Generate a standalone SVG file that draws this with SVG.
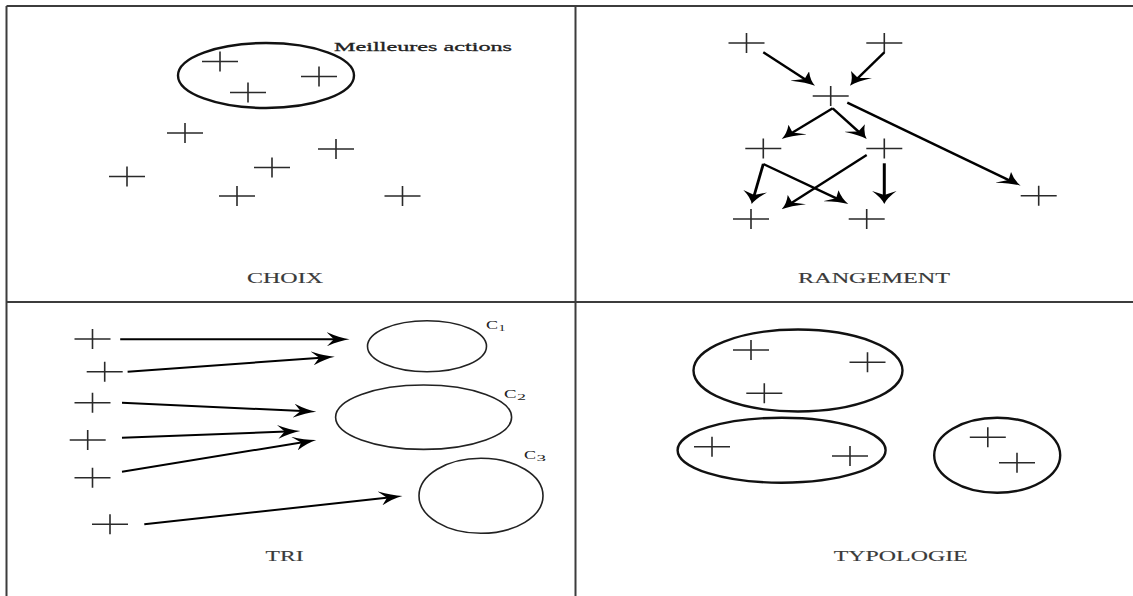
<svg xmlns="http://www.w3.org/2000/svg" xmlns:xlink="http://www.w3.org/1999/xlink" width="1133" height="596" viewBox="0 0 1133 596">
  <style>
    .frame { stroke: #3c3c3c; stroke-width: 2; fill: none; }
    .cross { stroke: #2a2a2a; stroke-width: 1.6; fill: none; }
    .set { stroke: #111; stroke-width: 2.4; fill: none; }
    .cls { stroke: #222; stroke-width: 1.6; fill: none; }
    .arrow { stroke: #000; stroke-width: 2.4; fill: none; marker-end: url(#head); vector-effect: non-scaling-stroke; }
    .thin { stroke-width: 2; }
    .label { font-family: "Liberation Serif", "Times New Roman", serif; font-size: 15px; fill: #3a3a3a; stroke: #3a3a3a; stroke-width: 0.15; }
    .note { font-family: "Liberation Serif", "Times New Roman", serif; font-size: 13.5px; fill: #222; stroke: #222; stroke-width: 0.3; }
    .cls-name { font-family: "Liberation Serif", "Times New Roman", serif; font-size: 13px; fill: #222; }
    .sub { font-family: "Liberation Serif", "Times New Roman", serif; font-size: 8px; fill: #222; }
  </style>
  <defs>
    <!-- elementary action: wide plus sign -->
    <path id="cross" class="cross" d="M-18,0 H18 M0,-10 V10"/>
    <!-- barbed arrowhead; stretched sideways by the connector layer -->
    <marker id="head" markerUnits="userSpaceOnUse" viewBox="0 0 13 14" markerWidth="13" markerHeight="14" refX="5" refY="7" orient="auto">
      <path d="M0,0 Q7,5.5 13,7 Q7,8.5 0,14 L4,7 Z" fill="#000"/>
    </marker>
  </defs>

  <rect width="1133" height="596" fill="#fff"/>

  <!-- four-panel frame -->
  <g id="frame">
    <path class="frame" d="M6.5,6 H1133 M6.5,6 V596 M575.5,6 V596 M6.5,302 H1133"/>
  </g>

  <!-- CHOIX -->
  <g id="choix">
    <g id="choix-best">
      <ellipse class="set" cx="266" cy="75.5" rx="88" ry="32.5"/>
      <text class="note" x="334" y="51" textLength="178" lengthAdjust="spacingAndGlyphs">Meilleures actions</text>
    </g>
    <use id="choix-a1" href="#cross" x="220" y="61.5"/>
    <use id="choix-a2" href="#cross" x="319" y="76.5"/>
    <use id="choix-a3" href="#cross" x="248" y="92.5"/>
    <use id="choix-a4" href="#cross" x="185" y="133"/>
    <use id="choix-a5" href="#cross" x="336" y="149"/>
    <use id="choix-a6" href="#cross" x="272" y="167.5"/>
    <use id="choix-a7" href="#cross" x="127" y="176.5"/>
    <use id="choix-a8" href="#cross" x="237" y="196"/>
    <use id="choix-a9" href="#cross" x="402.5" y="196"/>
    <text class="label" x="247" y="282.7" textLength="76" lengthAdjust="spacingAndGlyphs">CHOIX</text>
  </g>

  <!-- RANGEMENT -->
  <g id="rangement">
    <use id="rang-a1" href="#cross" x="746.5" y="43"/>
    <use id="rang-a2" href="#cross" x="884.3" y="43"/>
    <use id="rang-a3" href="#cross" x="830.7" y="96"/>
    <use id="rang-a4" href="#cross" x="763.3" y="148.5"/>
    <use id="rang-a5" href="#cross" x="884.3" y="148.5"/>
    <use id="rang-a6" href="#cross" x="751" y="219"/>
    <use id="rang-a7" href="#cross" x="866.7" y="219"/>
    <use id="rang-a8" href="#cross" x="1038.7" y="195.7"/>
    <text class="label" x="798" y="282.7" textLength="152" lengthAdjust="spacingAndGlyphs">RANGEMENT</text>
  </g>

  <!-- TRI -->
  <g id="tri">
    <use id="tri-a1" href="#cross" x="92.5" y="339"/>
    <use id="tri-a2" href="#cross" x="104.7" y="371.7"/>
    <use id="tri-a3" href="#cross" x="92.5" y="402.7"/>
    <use id="tri-a4" href="#cross" x="87.7" y="440"/>
    <use id="tri-a5" href="#cross" x="92.5" y="477.7"/>
    <use id="tri-a6" href="#cross" x="110" y="524.3"/>
    <g id="tri-c1">
      <ellipse class="cls" cx="427" cy="346.2" rx="59.5" ry="25.5"/>
      <text class="cls-name" x="486" y="329.3" textLength="12" lengthAdjust="spacingAndGlyphs">C</text>
      <text class="sub" x="498.5" y="330.5" textLength="7" lengthAdjust="spacingAndGlyphs">1</text>
    </g>
    <g id="tri-c2">
      <ellipse class="cls" cx="423.6" cy="417.2" rx="88" ry="32.2"/>
      <text class="cls-name" x="504" y="398.3" textLength="12.5" lengthAdjust="spacingAndGlyphs">C</text>
      <text class="sub" x="517" y="399.8" textLength="9" lengthAdjust="spacingAndGlyphs">2</text>
    </g>
    <g id="tri-c3">
      <ellipse class="cls" cx="481" cy="495.8" rx="62" ry="37.5"/>
      <text class="cls-name" x="524" y="459" textLength="12" lengthAdjust="spacingAndGlyphs">C</text>
      <text class="sub" x="536.5" y="460.5" textLength="9.5" lengthAdjust="spacingAndGlyphs">3</text>
    </g>
    <text class="label" x="265.6" y="560.5" textLength="38" lengthAdjust="spacingAndGlyphs">TRI</text>
  </g>

  <!-- TYPOLOGIE -->
  <g id="typologie">
    <g id="typo-g1">
      <ellipse class="set" cx="798" cy="370.5" rx="104.5" ry="41"/>
      <use id="typo-a1" href="#cross" x="751" y="350"/>
      <use id="typo-a2" href="#cross" x="867.5" y="362.3"/>
      <use id="typo-a3" href="#cross" x="764.3" y="393.3"/>
    </g>
    <g id="typo-g2">
      <ellipse class="set" cx="781.6" cy="450.2" rx="104" ry="32.5"/>
      <use id="typo-a4" href="#cross" x="712" y="446.7"/>
      <use id="typo-a5" href="#cross" x="850" y="456"/>
    </g>
    <g id="typo-g3">
      <ellipse class="set" cx="997.2" cy="455.2" rx="63" ry="37.5"/>
      <use id="typo-a6" href="#cross" x="987.8" y="437.3"/>
      <use id="typo-a7" href="#cross" x="1017" y="462.7"/>
    </g>
    <text class="label" x="833.7" y="560.5" textLength="134" lengthAdjust="spacingAndGlyphs">TYPOLOGIE</text>
  </g>

  <!-- connectors: drawn in a compressed frame, widened by 1.75 horizontally -->
  <g id="connectors" transform="scale(1.75,1)">
    <!-- ranking: preference relations -->
    <line class="arrow" x1="436.17" y1="52.3" x2="460.41" y2="79.71"/>
    <line class="arrow" x1="505.31" y1="52.3" x2="489.76" y2="78.8"/>
    <line class="arrow" x1="475.83" y1="108.3" x2="452.2" y2="133.2"/>
    <line class="arrow" x1="475.83" y1="108.3" x2="490.98" y2="132.24"/>
    <line class="arrow" x1="484.17" y1="102.7" x2="577.07" y2="180.56"/>
    <line class="arrow" x1="436.17" y1="164" x2="430.85" y2="196.11" style="stroke-width:2.8"/>
    <line class="arrow" x1="436.17" y1="164" x2="478.56" y2="198.91"/>
    <line class="arrow" x1="495.26" y1="155" x2="452.02" y2="203.34"/>
    <line class="arrow" x1="505.31" y1="163.3" x2="505.31" y2="196" style="stroke-width:3"/>
    <!-- sorting: assignment to categories -->
    <line class="arrow thin" x1="68.69" y1="339.3" x2="191.77" y2="339.3"/>
    <line class="arrow thin" x1="72.91" y1="371.7" x2="183.37" y2="357.71"/>
    <line class="arrow thin" x1="69.71" y1="402.7" x2="172.77" y2="411.05"/>
    <line class="arrow thin" x1="69.71" y1="437.7" x2="163.68" y2="431.52"/>
    <line class="arrow thin" x1="69.71" y1="471.7" x2="173.05" y2="442.2"/>
    <line class="arrow thin" x1="82.46" y1="524.3" x2="222.14" y2="497.51"/>
  </g>
</svg>
